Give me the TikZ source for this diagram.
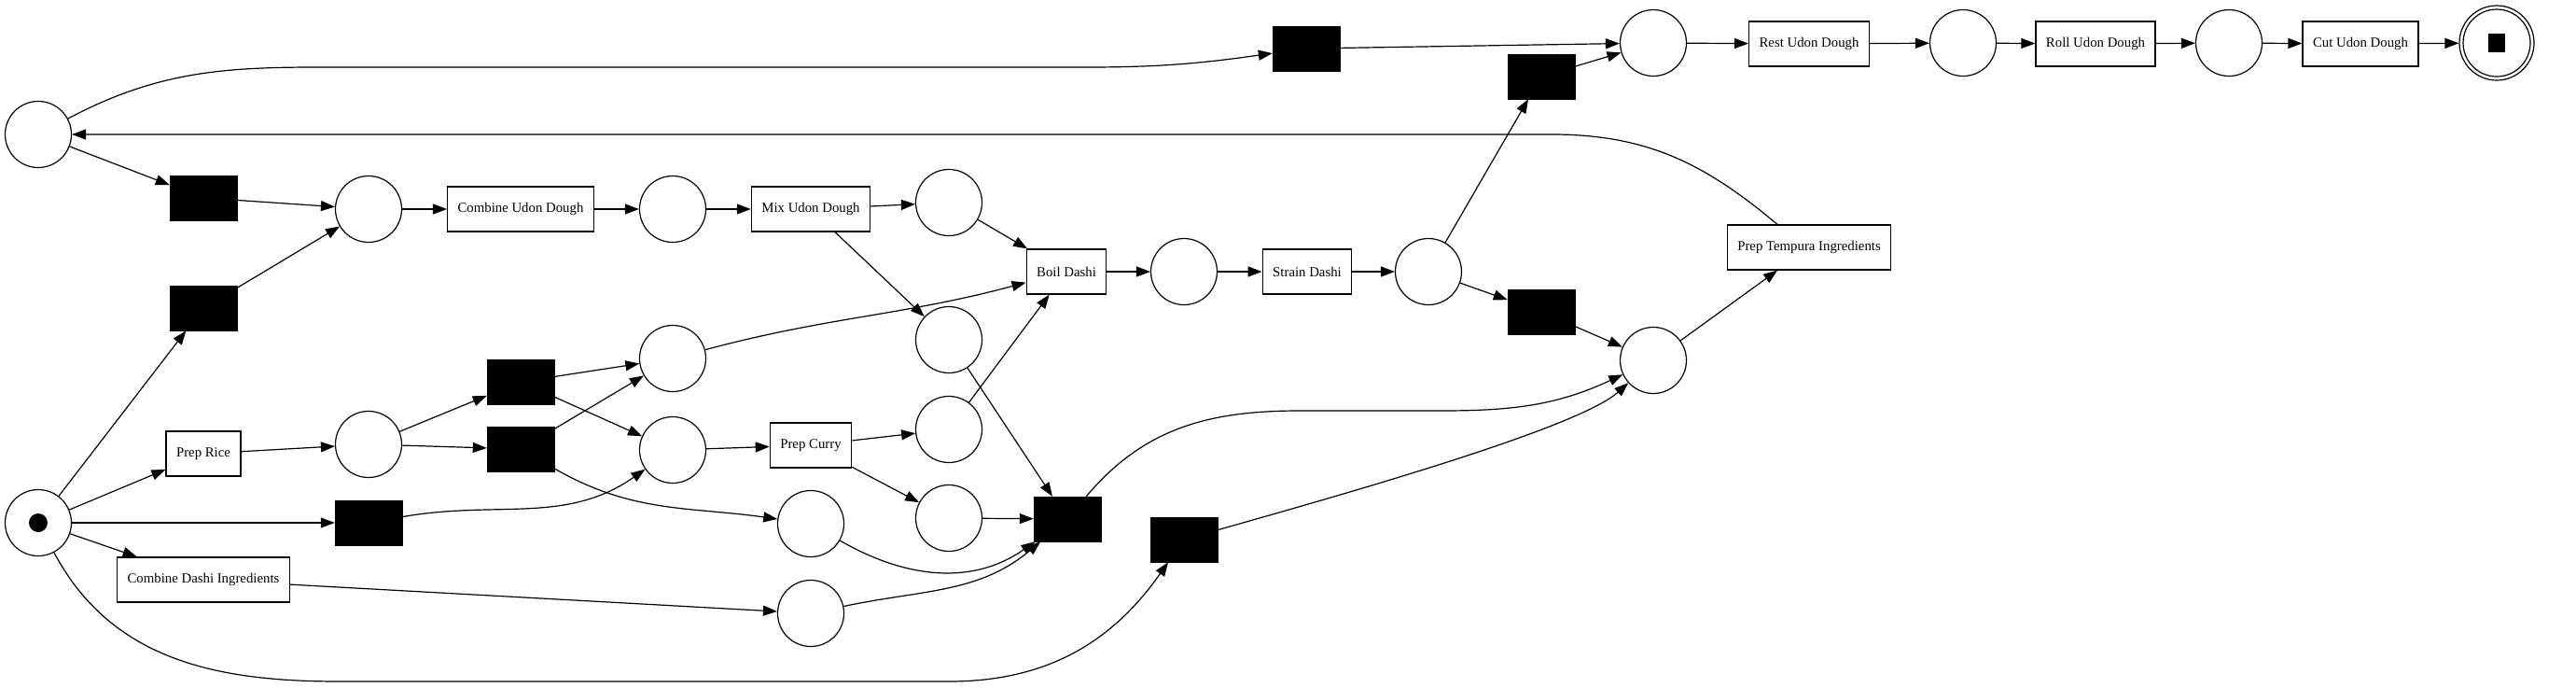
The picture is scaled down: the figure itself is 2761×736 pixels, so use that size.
\documentclass[tikz,border=0pt]{standalone}
\usepackage{fontspec}
\setmainfont{Liberation Serif}
\usetikzlibrary{arrows.meta}
\begin{document}
\begin{tikzpicture}[x=1pt,y=1pt,
  place/.style={circle,draw,line width=1.2pt,minimum size=71pt,inner sep=0pt},
  silent/.style={rectangle,fill=black,draw=black,minimum width=72pt,minimum height=48pt,inner sep=0pt},
  trans/.style={rectangle,draw,line width=1.2pt,minimum height=48pt,inner xsep=11pt,inner ysep=0pt,font=\fontsize{14.8}{17}\selectfont},
  arc/.style={-{Triangle[length=15pt,width=11pt]},line width=1.2pt},
]
\useasboundingbox (0,0) rectangle (2761,-736);
% places
\node[place] (Psrc) at (41,-560) {};
\fill (Psrc.center) circle (10pt);
\node[place] (Ptop) at (41,-144) {};
\node[place] (P1) at (395,-224) {};
\node[place] (P2) at (721,-224) {};
\node[place] (P3) at (1017,-217) {};
\node[place] (P4) at (1017,-364) {};
\node[place] (P5) at (721,-384) {};
\node[place] (P6) at (395,-476) {};
\node[place] (P7) at (721,-482) {};
\node[place] (P8) at (1017,-460) {};
\node[place] (P9) at (1017,-555) {};
\node[place] (P10) at (869,-561) {};
\node[place] (P11) at (869,-657) {};
\node[place] (P12) at (1269,-291) {};
\node[place] (P13) at (1531,-291) {};
\node[place] (P14) at (1772,-46) {};
\node[place] (P15) at (1772,-386) {};
\node[place] (P16) at (2104,-46) {};
\node[place] (P17) at (2389,-46) {};
\node[place,minimum size=80pt] (Psink) at (2676,-46) {};
\draw[line width=1.2pt] (Psink.center) circle (36pt);
\fill ([xshift=-9pt,yshift=-10pt]Psink.center) rectangle ([xshift=9pt,yshift=10pt]Psink.center);
% silent transitions
\node[silent] (Ta) at (218,-212) {};
\node[silent] (Tb) at (218,-330) {};
\node[silent] (Tc) at (558,-409) {};
\node[silent] (Td) at (558,-481) {};
\node[silent] (Te) at (395,-560) {};
\node[silent] (Tf) at (1144,-556) {};
\node[silent] (Tg) at (1269,-578) {};
\node[silent] (Th) at (1400,-52) {};
\node[silent] (Ti) at (1652,-82) {};
\node[silent] (Tj) at (1652,-334) {};
% labelled transitions
\node[trans] (CUD) at (558,-224) {Combine Udon Dough};
\node[trans] (MUD) at (869,-224) {Mix Udon Dough};
\node[trans] (BD) at (1143,-291) {Boil Dashi};
\node[trans] (SD) at (1401,-291) {Strain Dashi};
\node[trans] (PR) at (218,-486) {Prep Rice};
\node[trans] (PC) at (869,-477) {Prep Curry};
\node[trans] (CDI) at (218,-621) {Combine Dashi Ingredients};
\node[trans] (PTI) at (1939,-265) {Prep Tempura Ingredients};
\node[trans] (RUD) at (1939,-47) {Rest Udon Dough};
\node[trans] (Roll) at (2246,-47) {Roll Udon Dough};
\node[trans] (Cut) at (2530,-47) {Cut Udon Dough};
% waypoints
\coordinate (w1) at (387,-72);
\coordinate (w2) at (1165,-72);
\coordinate (w3) at (1663,-144);
\coordinate (w4) at (1393,-440);
\coordinate (w5) at (1545,-440);
\coordinate (w6) at (364,-730);
\coordinate (w7) at (1017,-730);
% arcs
\draw[arc] (Ptop) -- (Ta);
\draw[arc] (Ptop) to[out=28,in=180] (w1) -- (w2) to[out=0,in=188] (Th);
\draw[arc] (Ta) -- (P1);
\draw[arc] (Psrc) -- (Tb);
\draw[arc] (Tb) -- (P1);
\draw[arc] (P1) -- (CUD);
\draw[arc] (CUD) -- (P2);
\draw[arc] (P2) -- (MUD);
\draw[arc] (MUD) -- (P3);
\draw[arc] (MUD) -- (P4);
\draw[arc] (P3) -- (BD);
\draw[arc] (P5) to[out=15,in=195] (BD);
\draw[arc] (P8) -- (BD);
\draw[arc] (BD) -- (P12);
\draw[arc] (P12) -- (SD);
\draw[arc] (SD) -- (P13);
\draw[arc] (P13) -- (Ti);
\draw[arc] (P13) -- (Tj);
\draw[arc] (Ti) -- (P14);
\draw[arc] (Th) -- (P14);
\draw[arc] (P14) -- (RUD);
\draw[arc] (RUD) -- (P16);
\draw[arc] (P16) -- (Roll);
\draw[arc] (Roll) -- (P17);
\draw[arc] (P17) -- (Cut);
\draw[arc] (Cut) -- (Psink);
\draw[arc] (Tj) -- (P15);
\draw[arc] (P15) -- (PTI);
\draw[arc] ([xshift=-34pt]PTI.north) to[out=140,in=0] (w3) -- (Ptop);
\draw[arc] (Psrc) -- (PR);
\draw[arc] (PR) -- (P6);
\draw[arc] (P6) -- (Tc);
\draw[arc] (P6) -- (Td);
\draw[arc] (Tc) -- (P5);
\draw[arc] (Tc) -- (P7);
\draw[arc] (Td) -- (P5);
\draw[arc] (Td) to[out=-30,in=172] (P10);
\draw[arc] (Psrc) -- (Te);
\draw[arc] (Te) to[out=10,in=215] (P7);
\draw[arc] (Psrc) -- (CDI);
\draw[arc] (CDI) -- (P11);
\draw[arc] (P7) -- (PC);
\draw[arc] (PC) -- (P8);
\draw[arc] (PC) -- (P9);
\draw[arc] (P9) -- (Tf);
\draw[arc] (P4) -- (Tf);
\draw[arc] (P10) to[out=-30,in=215] (Tf);
\draw[arc] (P11) to[out=12,in=220] (Tf);
\draw[arc] (Tf) to[out=50,in=180] (w4) -- (w5) to[out=0,in=205] (P15);
\draw[arc] (Tg) .. controls (1420,-535) and (1690,-460) .. (P15);
\draw[arc] (Psrc) to[out=-62,in=180] (w6) -- (w7) to[out=0,in=235] (Tg);
\end{tikzpicture}
\end{document}
